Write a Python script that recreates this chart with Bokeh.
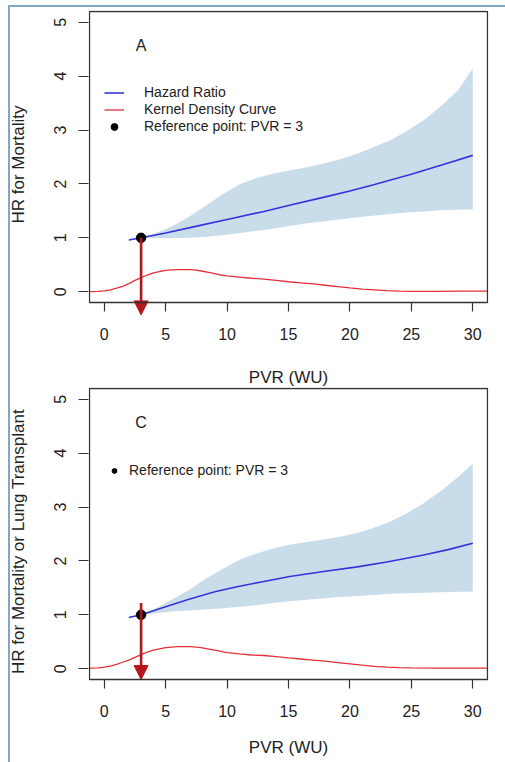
from bokeh.plotting import figure
from bokeh.models import (Range1d, FixedTicker, Legend, LegendItem, Arrow, NormalHead, Label,
                          BoxAnnotation, Title)
from bokeh.layouts import column
from bokeh.embed import file_html
from bokeh.resources import INLINE

# ---------------- data ----------------
x_ticks = [0, 5, 10, 15, 20, 25, 30]
y_ticks = [0, 1, 2, 3, 4, 5]
x_lim = (-1.2, 31.2)
y_lim = (-0.2, 5.2)

ref_x = [3]
ref_y = [1]

# Panel A: HR for mortality
hr_a_x = [2, 3, 5, 8, 10, 13, 15, 18, 20, 22, 25, 28, 30]
hr_a_y = [0.96, 1.0, 1.09, 1.24, 1.34, 1.49, 1.60, 1.76, 1.87, 1.99, 2.18, 2.39, 2.53]

band_x = [3, 4.2, 5.5, 6.9, 8.3, 9.7, 11, 12.4, 13.7, 15.1, 16.5, 17.9, 19.2, 20.6,
          21.9, 23.3, 24.6, 26, 27.4, 28.8, 30]
upper_a = [1.00, 1.09, 1.21, 1.39, 1.60, 1.82, 1.99, 2.11, 2.19, 2.25, 2.31, 2.38, 2.46,
           2.56, 2.68, 2.81, 2.98, 3.18, 3.44, 3.74, 4.14]
lower_a = [1.00, 0.99, 0.99, 1.00, 1.02, 1.05, 1.09, 1.13, 1.17, 1.22, 1.27, 1.31, 1.34,
           1.38, 1.41, 1.44, 1.47, 1.49, 1.51, 1.52, 1.53]

dens_a_x = [-1.2, -0.5, 0, 0.5, 1, 1.5, 2, 2.5, 3, 3.5, 4, 4.5, 5, 5.5, 6, 7, 7.5, 8,
            8.5, 9, 9.5, 10, 11, 12, 13, 14, 15, 16, 17, 18, 19, 20, 21, 22, 23, 24,
            25, 27, 29, 31.2]
dens_a_y = [0.0, 0.005, 0.015, 0.035, 0.065, 0.10, 0.15, 0.21, 0.26, 0.31, 0.35, 0.375,
            0.395, 0.405, 0.41, 0.41, 0.40, 0.38, 0.36, 0.335, 0.31, 0.295, 0.27, 0.25,
            0.235, 0.21, 0.185, 0.165, 0.145, 0.12, 0.095, 0.07, 0.05, 0.035, 0.02, 0.01,
            0.005, 0.005, 0.01, 0.01]

# Panel C: HR for mortality or lung transplant
hr_c_x = [2, 3, 5, 6.9, 9, 10.8, 13, 15.1, 18, 20.6, 23, 26, 28, 30]
hr_c_y = [0.95, 1.0, 1.15, 1.29, 1.43, 1.52, 1.62, 1.71, 1.81, 1.89, 1.98, 2.11, 2.21, 2.33]

upper_c = [1.00, 1.12, 1.28, 1.46, 1.68, 1.86, 2.02, 2.14, 2.23, 2.30, 2.35, 2.40, 2.45,
           2.52, 2.61, 2.73, 2.88, 3.07, 3.30, 3.56, 3.81]
lower_c = [1.00, 1.03, 1.06, 1.08, 1.10, 1.12, 1.15, 1.18, 1.22, 1.25, 1.28, 1.31, 1.33,
           1.35, 1.37, 1.39, 1.40, 1.41, 1.42, 1.43, 1.43]

dens_c_x = [-1.2, -0.5, 0, 0.5, 1, 1.5, 2, 2.5, 3, 3.5, 4, 4.5, 5, 5.5, 6, 7, 7.5, 8,
            8.5, 9, 9.5, 10, 11, 12, 13, 14, 15, 16, 17, 18, 19, 20, 21, 22, 23, 24,
            25, 27, 29, 31.2]
dens_c_y = [0.01, 0.015, 0.03, 0.05, 0.08, 0.12, 0.16, 0.21, 0.26, 0.31, 0.345, 0.37,
            0.39, 0.40, 0.41, 0.41, 0.40, 0.385, 0.365, 0.345, 0.32, 0.30, 0.275, 0.255,
            0.245, 0.225, 0.20, 0.18, 0.16, 0.14, 0.115, 0.09, 0.065, 0.045, 0.03, 0.02,
            0.015, 0.01, 0.01, 0.01]

arrow_a = (3, 1.0, -0.43)
arrow_c = (3, 1.22, -0.2)

X_TITLE = "PVR (WU)"
FONT = "Liberation Sans"
BAND = "#c9dcea"
BLUE = "#3434dc"
RED = "#e3303a"
ARROW = "#b3161b"
FRAME_H = 308          # 291px box + 1px above + 16px below
BOX_W = 398
BOX_H = 291


def make_panel(height, top, hr_x, hr_y, up, lo, dx, dy, letter, ylabel, arrow, spec,
               x_title=True, top_title=None):
    ux = (x_lim[1] - x_lim[0]) / BOX_W
    uy = (y_lim[1] - y_lim[0]) / BOX_H
    xr = Range1d(x_lim[0] - 1 * ux, x_lim[1] + 1 * ux)
    yr = Range1d(y_lim[0] - 16 * uy, y_lim[1] + 1 * uy)
    p = figure(width=505, height=height, output_backend="svg", toolbar_location=None,
               x_range=xr, y_range=yr,
               min_border_left=88, min_border_right=17, min_border_top=top,
               min_border_bottom=height - top - FRAME_H)
    p.grid.visible = False
    p.outline_line_color = None
    p.background_fill_color = "white"
    p.border_fill_color = None

    p.varea(x=band_x, y1=lo, y2=up, fill_color=BAND, fill_alpha=1.0)
    hr = p.line(hr_x, hr_y, line_color=BLUE, line_width=1.6)
    dens = p.line(dx, dy, line_color=RED, line_width=1.3)
    pt = p.scatter(ref_x, ref_y, size=9.5, color="black")

    ax, y0, y1 = arrow
    p.add_layout(Arrow(end=NormalHead(size=14, fill_color=ARROW, line_color=ARROW),
                       x_start=ax, y_start=y0, x_end=ax, y_end=y1,
                       line_color=ARROW, line_width=2.6))

    p.add_layout(BoxAnnotation(left=x_lim[0], right=x_lim[1], bottom=y_lim[0], top=y_lim[1],
                               fill_alpha=0, line_color="#333333", line_alpha=1.0,
                               line_width=1.3, level="overlay"))

    p.add_layout(Label(x=3.0, y=4.57, text=letter, text_font=FONT, text_font_size="16px",
                       text_align="center", text_baseline="middle", text_color="#222222"))

    for axis in (p.xaxis[0], p.yaxis[0]):
        axis.axis_line_color = None
        axis.major_tick_line_color = "#333333"
        axis.major_tick_line_width = 1.2
        axis.minor_tick_line_color = None
        axis.major_label_text_font = FONT
        axis.major_label_text_font_size = "16px"
        axis.major_label_text_color = "#222222"
        axis.axis_label_text_font = FONT
        axis.axis_label_text_font_size = "17px"
        axis.axis_label_text_font_style = "normal"
        axis.axis_label_text_color = "#222222"

    p.xaxis.ticker = FixedTicker(ticks=x_ticks)
    p.yaxis.ticker = FixedTicker(ticks=y_ticks)
    p.xaxis.major_tick_in = 16
    p.xaxis.major_tick_out = -7
    p.yaxis.major_tick_in = 0
    p.yaxis.major_tick_out = 10
    p.xaxis.major_label_standoff = 9
    p.yaxis.major_label_standoff = 12
    p.yaxis.major_label_orientation = "vertical"
    if x_title:
        p.xaxis.axis_label = X_TITLE
        p.xaxis.axis_label_standoff = 18
    p.yaxis.axis_label = ylabel
    p.yaxis.axis_label_standoff = 24

    if top_title is not None:
        p.add_layout(Title(text=top_title, align="center", text_font=FONT,
                           text_font_size="17px", text_font_style="normal",
                           text_color="#222222", standoff=2), "above")

    rmap = {"hr": hr, "dens": dens, "pt": pt}
    items = [LegendItem(label=lab, renderers=[rmap[k]]) for lab, k in spec["items"]]
    leg = Legend(items=items, location=spec["loc"], glyph_width=spec["gw"],
                 glyph_height=17, label_height=17, spacing=0, padding=0, margin=0,
                 label_standoff=spec["standoff"], border_line_color=None,
                 background_fill_alpha=0, label_text_font=FONT,
                 label_text_font_size="14px", label_text_color="#222222")
    p.add_layout(leg)
    return p


# panel A: its x-axis title is drawn as the title above panel C
pA = make_panel(350, 10, hr_a_x, hr_a_y, upper_a, lower_a, dens_a_x, dens_a_y,
                "A", "HR for Mortality", arrow_a,
                {"items": [("Hazard Ratio", "hr"), ("Kernel Density Curve", "dens"),
                           ("Reference point: PVR = 3", "pt")],
                 "loc": (16, 183.5), "gw": 20, "standoff": 20},
                x_title=False)
pC = make_panel(412, 37, hr_c_x, hr_c_y, upper_c, lower_c, dens_c_x, dens_c_y,
                "C", "HR for Mortality or Lung Transplant", arrow_c,
                {"items": [("Reference point: PVR = 3", "pt")],
                 "loc": (20, 216.5), "gw": 12, "standoff": 9},
                top_title=X_TITLE)

EDGE = "#7ea8c6"
layout = column(pA, pC, spacing=0, styles={
    "background-color": "white",
    "background-image": f"linear-gradient({EDGE}, {EDGE}), linear-gradient({EDGE}, {EDGE})",
    "background-size": "2px 100%, 100% 2px",
    "background-position": "8px 5px, 8px 5px",
    "background-repeat": "no-repeat",
})

open("out.html", "w").write(file_html(layout, INLINE))
